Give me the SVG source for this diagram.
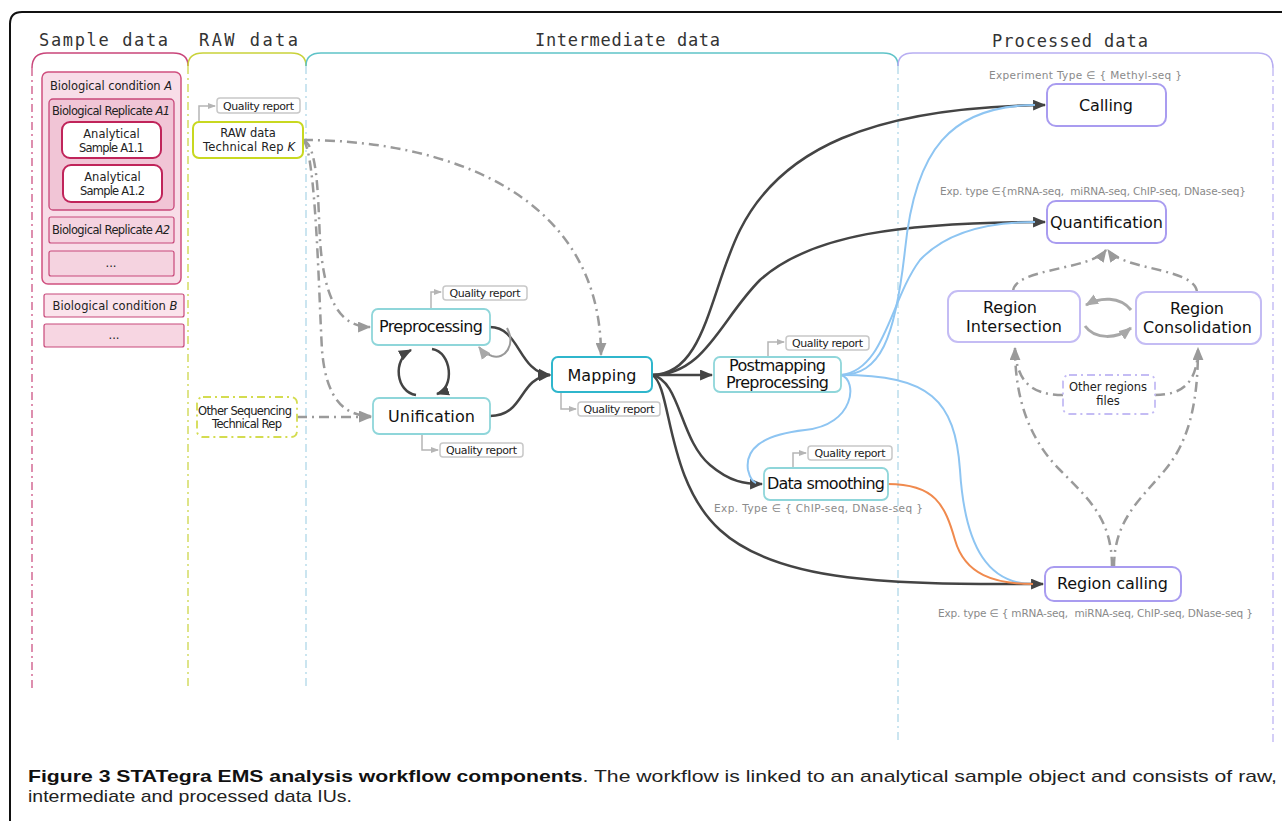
<svg xmlns="http://www.w3.org/2000/svg" width="1282" height="821" viewBox="0 0 1282 821">
<defs>
<marker id="aD" viewBox="0 0 12 10" refX="11" refY="5" markerWidth="13" markerHeight="11" markerUnits="userSpaceOnUse" orient="auto"><path d="M0,0 L12,5 L0,10 z" fill="#444"/></marker>
<marker id="aG" viewBox="0 0 12 10" refX="11" refY="5" markerWidth="13" markerHeight="11" markerUnits="userSpaceOnUse" orient="auto"><path d="M0,0 L12,5 L0,10 z" fill="#9a9a9a"/></marker>
<marker id="aR" viewBox="0 0 12 10" refX="11" refY="5" markerWidth="13" markerHeight="11" markerUnits="userSpaceOnUse" orient="auto"><path d="M0,0 L12,5 L0,10 z" fill="#a8a8a8"/></marker>
<marker id="aL" viewBox="0 0 8 6" refX="7" refY="3" markerWidth="8" markerHeight="6" markerUnits="userSpaceOnUse" orient="auto"><path d="M0,0 L8,3 L0,6 z" fill="#b5b5b5"/></marker>
<style>
.hdr{font-family:"DejaVu Sans Mono",monospace;font-size:17px;fill:#333}
.sec{fill:none;stroke-width:1.5}
.vl{fill:none;stroke-width:1.2;stroke-dasharray:8 4 2 4}
.st{font-family:"DejaVu Sans",sans-serif;font-size:11.5px;fill:#222;text-anchor:middle}
.qr rect{fill:#fff;stroke:#c8c8c8;stroke-width:1.5}
.qr text{font-family:"DejaVu Sans",sans-serif;font-size:11px;fill:#222;text-anchor:middle}
.qrl{fill:none;stroke:#b5b5b5;stroke-width:1.5}
.nt{font-family:"DejaVu Sans",sans-serif;font-size:16px;fill:#111;text-anchor:middle}
.tn{fill:#fff;stroke:#8fd6da;stroke-width:1.8}
.pn{fill:#fff;stroke:#a99cf0;stroke-width:2}
.ex{font-family:"DejaVu Sans",sans-serif;font-size:10.5px;fill:#8a8a8a}
.dk{fill:none;stroke:#444;stroke-width:2.5}
.bl{fill:none;stroke:#8ec5f2;stroke-width:2}
.or{fill:none;stroke:#f08a4e;stroke-width:2}
.dd{fill:none;stroke:#9a9a9a;stroke-width:2.5;stroke-dasharray:10 5 2 5}
.gr{fill:none;stroke:#a8a8a8;stroke-width:3}
.cap{font-family:"Liberation Sans",Arial,sans-serif;font-size:17px;fill:#222}
</style>
</defs>

<!-- frame -->
<path d="M10,821 V24 Q10,12 22,12 H1282" fill="none" stroke="#111" stroke-width="2"/>

<!-- section headers -->
<g id="sections">
<text class="hdr" x="39" y="46" textLength="129" lengthAdjust="spacing">Sample data</text>
<text class="hdr" x="199" y="46" textLength="99" lengthAdjust="spacing">RAW data</text>
<text class="hdr" x="535" y="46" textLength="185" lengthAdjust="spacing">Intermediate data</text>
<text class="hdr" x="992" y="47" textLength="156" lengthAdjust="spacing">Processed data</text>
<path class="sec" stroke="#c9457a" d="M32,68 Q32,53 47,53 H173 Q188,53 188,66"/>
<path class="sec" stroke="#c9d23a" d="M188,66 Q188,53 203,53 H291 Q306,53 306,66"/>
<path class="sec" stroke="#5fc3c8" d="M306,66 Q306,53 321,53 H883 Q898,53 898,66"/>
<path class="sec" stroke="#b8aef2" d="M898,66 Q898,53 913,53 H1258 Q1273,53 1273,68"/>
<path class="vl" stroke="#c9457a" d="M32,68 V688"/>
<path class="vl" stroke="#c9d23a" d="M188,66 V688"/>
<path class="vl" stroke="#a9d4e6" d="M306,66 V688"/>
<path class="vl" stroke="#a9d4e6" d="M898,66 V742"/>
<path class="vl" stroke="#b8aef2" d="M1273,68 V742"/>
</g>

<!-- sample data -->
<g id="condA">
<rect x="42" y="72" width="139" height="212" rx="6" fill="#f8dde8" stroke="#d0507f" stroke-width="1.5"/>
<text class="st" x="111" y="90" textLength="122" font-size="12">Biological condition <tspan font-style="italic">A</tspan></text>
</g>
<g id="repA1">
<rect x="49" y="99" width="125" height="111" rx="4" fill="#f1c5d6" stroke="#c8487a" stroke-width="1.3"/>
<text class="st" x="111" y="115" textLength="118">Biological Replicate <tspan font-style="italic">A1</tspan></text>
</g>
<g id="sampleA11">
<rect x="62" y="122" width="99" height="36" rx="8" fill="#fff" stroke="#c0245a" stroke-width="2"/>
<text class="st" x="111.5" y="138">Analytical</text>
<text class="st" x="111.5" y="152" textLength="65">Sample A1.1</text>
</g>
<g id="sampleA12">
<rect x="63" y="165" width="99" height="37" rx="8" fill="#fff" stroke="#c0245a" stroke-width="2"/>
<text class="st" x="112.5" y="181">Analytical</text>
<text class="st" x="112.5" y="195" textLength="65">Sample A1.2</text>
</g>
<g id="repA2">
<rect x="49" y="217" width="125" height="26" rx="2" fill="#f5d3e0" stroke="#c8487a" stroke-width="1.2"/>
<text class="st" x="111" y="234" textLength="118">Biological Replicate <tspan font-style="italic">A2</tspan></text>
</g>
<g id="moreA">
<rect x="49" y="251" width="125" height="25" rx="2" fill="#f5d3e0" stroke="#c8487a" stroke-width="1.2"/>
<text class="st" x="111" y="267" fill="#555">...</text>
</g>
<g id="condB">
<rect x="44" y="294" width="140" height="23" rx="2" fill="#fbe3ec" stroke="#c8487a" stroke-width="1.2"/>
<text class="st" x="115" y="310" textLength="125">Biological condition <tspan font-style="italic">B</tspan></text>
</g>
<g id="moreB">
<rect x="44" y="324" width="140" height="23" rx="2" fill="#f7d6e2" stroke="#c8487a" stroke-width="1.2"/>
<text class="st" x="114" y="339" fill="#555">...</text>
</g>

<!-- connectors -->
<g id="connectors">
<path class="qrl" d="M199,122 V106 H215" marker-end="url(#aL)"/>
<path class="qrl" d="M431,309 V292 H441" marker-end="url(#aL)"/>
<path class="qrl" d="M422,434 V450 H438" marker-end="url(#aL)"/>
<path class="qrl" d="M561,392 V409 H576" marker-end="url(#aL)"/>
<path class="qrl" d="M768,357 V342 H784" marker-end="url(#aL)"/>
<path class="qrl" d="M793,468 V453 H806" marker-end="url(#aL)"/>

<path class="dd" d="M303,140 C318,145 318,200 320,240 C324,300 340,327 370,327" marker-end="url(#aG)"/>
<path class="dd" d="M303,140 C316,150 319,300 322,350 C326,400 345,416 371,416" marker-end="url(#aG)"/>
<path class="dd" d="M303,140 C440,140 601,190 601,355" marker-end="url(#aG)"/>
<path class="dd" d="M297,417 H371" marker-end="url(#aG)"/>

<path class="dk" d="M490,327 C520,327 518,372 550,375" marker-end="url(#aD)"/>
<path class="dk" d="M490,416 C525,416 518,378 550,375" marker-end="url(#aD)"/>
<path fill="none" stroke="#999" stroke-width="2" d="M507,328 C516,345 505,360 492,356 C486,354 482,351 479,347" marker-end="url(#aR)"/>
<path class="dk" d="M416,395 C396,392 392,360 411,350" marker-end="url(#aD)"/>
<path class="dk" d="M432,349 C452,352 455,388 437,394" marker-end="url(#aD)"/>

<path class="dk" d="M652,375 H712" marker-end="url(#aD)"/>
<path class="dk" d="M652,375 C705,375 710,290 740,230 C780,150 870,107 1045,105" marker-end="url(#aD)"/>
<path class="dk" d="M652,375 C705,375 720,320 760,280 C810,235 900,222 1045,222" marker-end="url(#aD)"/>
<path class="dk" d="M652,375 C680,380 680,440 710,465 C730,482 745,484 762,484" marker-end="url(#aD)"/>
<path class="dk" d="M652,375 C672,385 665,480 720,530 C780,585 900,584 1043,584" marker-end="url(#aD)"/>

<path class="bl" d="M841,375 C880,375 895,340 905,250 C915,150 950,106 1035,105"/>
<path class="bl" d="M841,375 C885,370 890,300 920,260 C950,228 1000,222 1035,222"/>
<path class="bl" d="M841,375 C858,380 855,425 805,430 C760,435 745,450 748,470 C750,478 753,482 756,483"/>
<path class="bl" d="M841,375 C930,375 955,400 960,470 C965,550 990,584 1033,584"/>
<path class="or" d="M888,484 C935,484 945,505 955,540 C965,575 995,584 1033,584"/>

<path class="dd" d="M1013,291 C1015,268 1092,270 1106,250" marker-end="url(#aG)"/>
<path class="dd" d="M1197,292 C1195,268 1122,270 1108,250" marker-end="url(#aG)"/>
<path class="dd" d="M1112,567 C1112,520 1090,500 1060,470 C1030,440 1015,400 1015,348" marker-end="url(#aG)"/>
<path class="dd" d="M1114,567 C1114,520 1140,500 1165,470 C1190,440 1198,400 1198,348" marker-end="url(#aG)"/>
<path class="dd" d="M1063,395 C1030,395 1017,380 1015,350"/>
<path class="dd" d="M1155,395 C1185,395 1197,380 1198,350"/>
<path class="gr" d="M1131,310 C1120,296 1100,297 1086,305" marker-end="url(#aR)"/>
<path class="gr" d="M1085,326 C1095,340 1117,339 1131,328" marker-end="url(#aR)"/>
</g>

<!-- RAW data -->
<g id="rawQR" class="qr"><rect x="217" y="98" width="83" height="15" rx="3"/><text x="258.5" y="110" textLength="71">Quality report</text></g>
<g id="rawData">
<rect x="193" y="122" width="110" height="36" rx="6" fill="#fff" stroke="#c8d820" stroke-width="2"/>
<text class="st" x="248" y="137" font-size="12.5">RAW data</text>
<text class="st" x="249" y="151" font-size="12.5" textLength="92">Technical Rep <tspan font-style="italic">K</tspan></text>
</g>
<g id="otherSeq">
<rect x="197" y="397" width="100" height="40" rx="6" fill="#fff" stroke="#d4dc50" stroke-width="1.8" stroke-dasharray="8 4 2 4"/>
<text class="st" x="245" y="415" fill="#777" textLength="94">Other Sequencing</text>
<text class="st" x="247" y="428" fill="#777" textLength="70">Technical Rep</text>
</g>

<!-- intermediate nodes -->
<g id="preprocessing">
<rect class="tn" x="372" y="309" width="118" height="36" rx="6"/>
<text class="nt" x="431" y="332" textLength="104">Preprocessing</text>
</g>
<g id="preQR" class="qr"><rect x="443" y="286" width="84" height="14" rx="3"/><text x="485" y="297" textLength="71">Quality report</text></g>
<g id="unification">
<rect class="tn" x="373" y="398" width="117" height="36" rx="6"/>
<text class="nt" x="431.5" y="422" font-size="17" textLength="87">Unification</text>
</g>
<g id="unifQR" class="qr"><rect x="440" y="443" width="83" height="14" rx="3"/><text x="481.5" y="454" textLength="71">Quality report</text></g>
<g id="mapping">
<rect x="552" y="357" width="100" height="35" rx="6" fill="#fff" stroke="#2fb6cc" stroke-width="2"/>
<text class="nt" x="602" y="381" font-size="17" textLength="69">Mapping</text>
</g>
<g id="mapQR" class="qr"><rect x="578" y="402" width="82" height="14" rx="3"/><text x="619" y="413" textLength="71">Quality report</text></g>
<g id="postmapping">
<rect class="tn" x="714" y="357" width="127" height="35" rx="6"/>
<text class="nt" x="777.5" y="371" font-size="15" textLength="97">Postmapping</text>
<text class="nt" x="777.5" y="388" font-size="15" textLength="103">Preprocessing</text>
</g>
<g id="postQR" class="qr"><rect x="786" y="336" width="83" height="14" rx="3"/><text x="827.5" y="347" textLength="71">Quality report</text></g>
<g id="dataSmoothing">
<rect class="tn" x="764" y="468" width="124" height="32" rx="6"/>
<text class="nt" x="826" y="489" textLength="118">Data smoothing</text>
</g>
<g id="smoothQR" class="qr"><rect x="808" y="446" width="84" height="14" rx="3"/><text x="850" y="457" textLength="71">Quality report</text></g>
<text class="ex" x="714" y="512" textLength="209">Exp. Type ∈ { ChIP-seq, DNase-seq }</text>

<!-- processed nodes -->
<text class="ex" x="989" y="79" textLength="193">Experiment Type ∈ { Methyl-seq }</text>
<g id="calling">
<rect class="pn" x="1047" y="84" width="119" height="42" rx="9"/>
<text class="nt" x="1106" y="111" font-size="17" textLength="54">Calling</text>
</g>
<text class="ex" x="940" y="195" textLength="306" xml:space="preserve">Exp. type ∈{mRNA-seq,  miRNA-seq, ChIP-seq, DNase-seq}</text>
<g id="quantification">
<rect class="pn" x="1047" y="201" width="119" height="42" rx="9"/>
<text class="nt" x="1106.5" y="228" font-size="17" textLength="113">Quantification</text>
</g>
<g id="regionIntersection">
<rect x="948" y="291" width="132" height="51" rx="10" fill="#fff" stroke="#c4bcf4" stroke-width="2"/>
<text class="nt" x="1010" y="313" textLength="54">Region</text>
<text class="nt" x="1014" y="332" textLength="96">Intersection</text>
</g>
<g id="regionConsolidation">
<rect x="1136" y="292" width="125" height="52" rx="10" fill="#fff" stroke="#c4bcf4" stroke-width="2"/>
<text class="nt" x="1197" y="314" textLength="54">Region</text>
<text class="nt" x="1197.5" y="333" textLength="109">Consolidation</text>
</g>
<g id="otherRegions">
<rect x="1063" y="375" width="92" height="39" rx="6" fill="#fff" stroke="#c4bcf4" stroke-width="1.8" stroke-dasharray="8 4 2 4"/>
<text class="st" x="1108" y="391" fill="#666" textLength="78">Other regions</text>
<text class="st" x="1108" y="405" fill="#666">files</text>
</g>
<g id="regionCalling">
<rect class="pn" x="1045" y="567" width="136" height="34" rx="9"/>
<text class="nt" x="1112.5" y="589" font-size="17" textLength="111">Region calling</text>
</g>
<text class="ex" x="938" y="617" textLength="315" xml:space="preserve">Exp. type ∈ { mRNA-seq,  miRNA-seq, ChIP-seq, DNase-seq }</text>

<!-- caption -->
<text class="cap" x="28" y="782" textLength="1249" lengthAdjust="spacingAndGlyphs"><tspan font-weight="bold" fill="#111">Figure 3 STATegra EMS analysis workflow components</tspan>. The workflow is linked to an analytical sample object and consists of raw,</text>
<text class="cap" x="28" y="802" textLength="324" lengthAdjust="spacingAndGlyphs">intermediate and processed data IUs.</text>
</svg>
